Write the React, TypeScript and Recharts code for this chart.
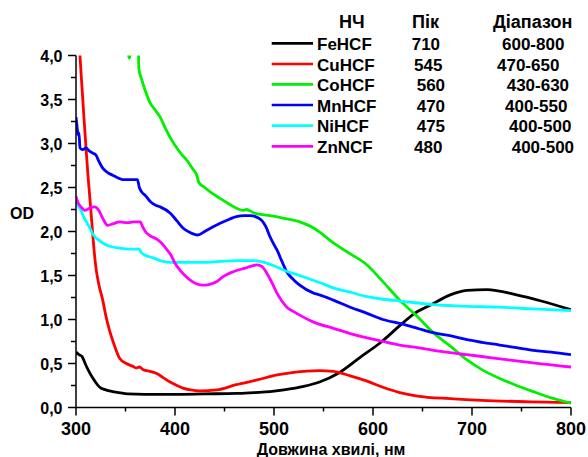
import { Line, LineChart, XAxis, YAxis } from "recharts";

// Absorption spectra of metal hexacyanoferrates, [wavelength nm, OD]
const feHCF: [number, number][] = [
  [300, 0.63], [303, 0.6], [306, 0.58], [310, 0.48], [314, 0.39], [319, 0.3], [324, 0.23],
  [330, 0.2], [337, 0.18], [345, 0.165], [352, 0.155], [370, 0.15], [400, 0.15], [430, 0.155],
  [462, 0.16], [480, 0.17], [496, 0.18], [510, 0.2], [530, 0.24], [546, 0.29], [565, 0.39],
  [587, 0.57], [609, 0.75], [629, 0.95], [642, 1.07], [659, 1.17], [678, 1.28], [695, 1.33],
  [715, 1.34], [745, 1.28], [770, 1.21], [800, 1.11],
];

const cuHCF: [number, number][] = [
  [303.5, 4.1], [304, 4.0], [306, 3.65], [308, 3.3], [310, 2.97], [312, 2.65], [314, 2.38],
  [316, 2.1], [318, 1.82], [320, 1.6], [323, 1.4], [327, 1.22], [330, 1.05], [334, 0.87],
  [338, 0.73], [344, 0.56], [351, 0.5], [357, 0.47], [361, 0.45], [364, 0.46], [368, 0.43],
  [375, 0.41], [381, 0.39], [388, 0.34], [395, 0.29], [402, 0.25], [408, 0.22], [416, 0.2],
  [425, 0.19], [442, 0.2], [462, 0.26], [482, 0.31], [503, 0.37], [520, 0.4], [530, 0.41],
  [545, 0.42], [560, 0.41], [577, 0.36], [594, 0.3], [610, 0.23], [627, 0.17], [645, 0.13],
  [678, 0.1], [710, 0.08], [760, 0.065], [800, 0.055],
];

const coHCF: [number, number][] = [
  [352, 4.1], [354, 3.97], [356, 4.1], [362.8, 4.15], [363.5, 3.85], [366, 3.74], [370, 3.6],
  [375, 3.46], [380, 3.38], [385, 3.3], [390, 3.18], [395, 3.07], [400, 2.98], [405, 2.9],
  [412, 2.81], [418, 2.71], [422, 2.64], [424, 2.56], [430, 2.5], [438, 2.43], [445, 2.38],
  [455, 2.31], [469, 2.24], [472, 2.25], [480, 2.21], [496, 2.18], [510, 2.15], [526, 2.11],
  [540, 2.04], [550, 1.96], [560, 1.87], [575, 1.76], [594, 1.62], [610, 1.43], [627, 1.22],
  [645, 1.03], [661, 0.85], [680, 0.68], [695, 0.54], [710, 0.43], [728, 0.33], [745, 0.25],
  [762, 0.18], [780, 0.11], [800, 0.05],
];

const mnHCF: [number, number][] = [
  [300, 3.3], [301, 3.2], [302, 3.1], [303, 3.12], [304, 2.95], [307, 2.93], [310, 2.95],
  [313, 2.92], [317, 2.89], [320, 2.87], [323, 2.8], [327, 2.72], [332, 2.67], [337, 2.64],
  [342, 2.61], [347, 2.59], [355, 2.59], [362, 2.59], [364, 2.5], [367, 2.44], [370, 2.41],
  [375, 2.34], [380, 2.3], [385, 2.28], [395, 2.21], [402, 2.12], [408, 2.04], [415, 1.99],
  [423, 1.96], [430, 2.0], [438, 2.05], [445, 2.09], [455, 2.14], [462, 2.17], [470, 2.18],
  [476, 2.18], [483, 2.16], [488, 2.12], [492, 2.05], [496, 1.94], [500, 1.85], [503, 1.79],
  [508, 1.66], [513, 1.54], [520, 1.45], [526, 1.39], [540, 1.3], [546, 1.28], [560, 1.22],
  [577, 1.14], [594, 1.07], [610, 1.0], [629, 0.95], [645, 0.9], [661, 0.85], [680, 0.81],
  [695, 0.77], [710, 0.74], [728, 0.71], [745, 0.68], [762, 0.65], [780, 0.63], [800, 0.6],
];

const niHCF: [number, number][] = [
  [300, 2.36], [302, 2.3], [305, 2.24], [308, 2.16], [311, 2.1], [314, 2.04], [317, 1.97],
  [322, 1.91], [327, 1.87], [335, 1.83], [344, 1.81], [355, 1.8], [364, 1.8], [366, 1.76],
  [372, 1.72], [378, 1.7], [385, 1.67], [395, 1.65], [410, 1.65], [428, 1.65], [445, 1.66],
  [462, 1.67], [479, 1.67], [490, 1.65], [500, 1.61], [510, 1.56], [526, 1.5], [546, 1.42],
  [560, 1.36], [577, 1.31], [594, 1.26], [610, 1.23], [627, 1.21], [661, 1.17], [695, 1.15],
  [728, 1.14], [762, 1.12], [800, 1.1],
];

const znNCF: [number, number][] = [
  [300, 2.4], [302, 2.33], [305, 2.28], [309, 2.24], [313, 2.26], [319, 2.28], [323, 2.24],
  [327, 2.15], [332, 2.07], [338, 2.09], [344, 2.11], [352, 2.1], [358, 2.11], [365, 2.11],
  [367, 2.06], [370, 2.0], [375, 1.95], [382, 1.91], [387, 1.86], [392, 1.79], [396, 1.73],
  [400, 1.64], [405, 1.56], [410, 1.5], [415, 1.45], [421, 1.41], [428, 1.39], [435, 1.4],
  [442, 1.43], [449, 1.49], [456, 1.53], [463, 1.56], [470, 1.58], [478, 1.61], [483, 1.62],
  [488, 1.6], [492, 1.54], [496, 1.46], [500, 1.37], [503, 1.3], [508, 1.21], [513, 1.14],
  [520, 1.09], [526, 1.05], [540, 0.97], [560, 0.9], [577, 0.84], [594, 0.79], [610, 0.75],
  [627, 0.71], [645, 0.68], [661, 0.65], [680, 0.62], [695, 0.6], [720, 0.565], [745, 0.53],
  [770, 0.495], [800, 0.46],
];

const seriesNames = ["FeHCF", "CuHCF", "CoHCF", "MnHCF", "NiHCF", "ZnNCF"];
const seriesColors = ["#000000", "#ff0000", "#00f000", "#0000ff", "#00ffff", "#ff00ff"];
const peaks = ["710", "545", "560", "470", "475", "480"];
const ranges = ["600-800", "470-650", "430-630", "400-550", "400-500", "400-500"];
const legendHeaders = ["НЧ", "Пік", "Діапазон"];

const wavelengthTicks = [300, 350, 400, 450, 500, 550, 600, 650, 700, 750, 800];
const odTicks = [0, 0.25, 0.5, 0.75, 1, 1.25, 1.5, 1.75, 2, 2.25, 2.5, 2.75, 3, 3.25, 3.5, 3.75, 4];

const allSeries = [feHCF, cuHCF, coHCF, mnHCF, niHCF, znNCF];

const FONT = "'Liberation Sans', Arial, sans-serif";

const XTick = (props: any) => {
  const { x, y, payload } = props;
  const major = payload.value % 100 === 0;
  return (
    <g>
      <line x1={x} x2={x} y1={y} y2={y + (major ? 8 : 4)} stroke="#000" strokeWidth={1.5} />
      {major ? (
        <text x={x} y={y + 27} textAnchor="middle" fontFamily={FONT} fontWeight="bold" fontSize={18} fill="#000">
          {payload.value}
        </text>
      ) : null}
    </g>
  );
};

const YTick = (props: any) => {
  const { x, y, payload } = props;
  const major = Math.abs(payload.value * 2 - Math.round(payload.value * 2)) < 1e-6;
  return (
    <g>
      <line x1={x - (major ? 8 : 5)} x2={x} y1={y} y2={y} stroke="#000" strokeWidth={1.5} />
      {major ? (
        <text x={x - 13.5} y={y + 6} textAnchor="end" fontFamily={FONT} fontWeight="bold" fontSize={16} fill="#000">
          {payload.value.toFixed(1).replace(".", ",")}
        </text>
      ) : null}
    </g>
  );
};

const rowY = [50, 70.7, 91, 111.7, 132.3, 153];
const peakX = [411.7, 414, 416.7, 416.7, 416.7, 414];
const rangeX = [502, 497, 506.7, 505, 509, 511.7];

function SpectraLegend() {
  return (
    <g fontFamily={FONT} fontWeight="bold" fill="#000">
      <text x={339} y={28.3} fontSize={18}>{legendHeaders[0]}</text>
      <text x={412} y={28.3} fontSize={18}>{legendHeaders[1]}</text>
      <text x={493} y={28.3} fontSize={18}>{legendHeaders[2]}</text>
      {seriesNames.map((name, i) => (
        <g key={name}>
          <line x1={271.7} x2={313} y1={rowY[i] - 6.7} y2={rowY[i] - 6.7} stroke={seriesColors[i]} strokeWidth={2.7} />
          <text x={317} y={rowY[i]} fontSize={17}>{name}</text>
          <text x={peakX[i]} y={rowY[i]} fontSize={17}>{peaks[i]}</text>
          <text x={rangeX[i]} y={rowY[i]} fontSize={17}>{ranges[i]}</text>
        </g>
      ))}
    </g>
  );
}

export default function App() {
  return (
    <div style={{ position: "absolute", left: 0, top: 0, background: "#fff" }}>
      <LineChart width={588} height={457} margin={{ top: 55.5, right: 17, bottom: 0, left: 0 }}>
        <XAxis
          type="number"
          dataKey="x"
          domain={[300, 800]}
          ticks={wavelengthTicks}
          allowDataOverflow
          height={49.5}
          tickSize={0}
          tickMargin={0}
          tickLine={false}
          tick={<XTick />}
          axisLine={{ stroke: "#000", strokeWidth: 1.5 }}
          interval={0}
        />
        <YAxis
          type="number"
          domain={[0, 4]}
          ticks={odTicks}
          allowDataOverflow
          width={76}
          tickSize={0}
          tickMargin={0}
          tickLine={false}
          tick={<YTick />}
          axisLine={{ stroke: "#000", strokeWidth: 1.5 }}
          interval={0}
        />
        {allSeries.map((points, i) => (
          <Line
            key={seriesNames[i]}
            name={seriesNames[i]}
            data={points.map(([x, y]) => ({ x, y }))}
            dataKey="y"
            type="monotone"
            stroke={seriesColors[i]}
            strokeWidth={2.8}
            dot={false}
            activeDot={false}
            isAnimationActive={false}
          />
        ))}
        <text x={22} y={219.3} textAnchor="middle" fontFamily={FONT} fontWeight="bold" fontSize={16} fill="#000">
          OD
        </text>
        <text x={331} y={455} textAnchor="middle" fontFamily={FONT} fontWeight="bold" fontSize={16} fill="#000">
          Довжина хвилі, нм
        </text>
        <SpectraLegend />
      </LineChart>
    </div>
  );
}
